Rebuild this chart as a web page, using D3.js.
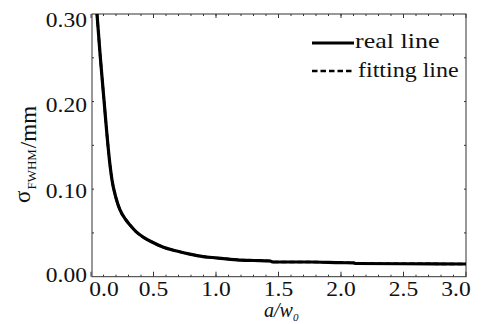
<!DOCTYPE html>
<html lang="en">
<head>
    <meta charset="UTF-8">
    <title>sigma FWHM vs a/w0</title>
    <script src="https://d3js.org/d3.v7.min.js"></script>
    <style>
        body { margin: 0; background: #fff; }
        svg { display: block; }
    </style>
</head>
<body>
    <svg id="chart" width="481" height="324"></svg>

    <script>
        // Data
        const ratio = [0.048, 0.075, 0.104, 0.128, 0.152, 0.168, 0.200, 0.232, 0.280, 0.312,
                       0.360, 0.420, 0.496, 0.580, 0.686, 0.790, 0.896, 1.00, 1.168, 1.300,
                       1.432, 1.456, 1.752, 2.000, 2.100, 2.120, 2.500, 3.000];
        const realSigma = [0.300, 0.2500, 0.2017, 0.1617, 0.1276, 0.1104, 0.0899, 0.0762, 0.0648, 0.0590,
                           0.0515, 0.0450, 0.0390, 0.0335, 0.0293, 0.0258, 0.0230, 0.0215, 0.0193, 0.0185,
                           0.0179, 0.0168, 0.0168, 0.0160, 0.0158, 0.0151, 0.0148, 0.0145];
        const fitSigma = realSigma;
        const xTicks = [0, 0.5, 1.0, 1.5, 2.0, 2.5, 3.0];
        const yTicks = [0, 0.10, 0.20, 0.30];
        const legendLabels = ["real line", "fitting line"];

        const serif = "'Liberation Serif', 'DejaVu Serif', serif";

        const svg = d3.select("#chart")
            .attr("font-family", serif);
        const plotL = 91, plotR = 466, plotT = 14, plotB = 276.7;

        const x = d3.scaleLinear().domain([0, 3]).range([plotL, plotR]);
        const y = d3.scaleLinear().domain([0, 0.30]).range([plotB, plotT]);

        // frame
        svg.append("rect")
            .attr("x", plotL + 1).attr("y", plotT)
            .attr("width", plotR - plotL - 1).attr("height", plotB - plotT)
            .attr("fill", "none").attr("stroke", "#333").attr("stroke-width", 1);

        // minor + major ticks, pointing inward
        const minorX = d3.range(0.1, 3, 0.1);
        const minorY = d3.range(0.05, 0.3, 0.05);
        const ticks = svg.append("g").attr("stroke", "#333").attr("stroke-width", 1);
        minorX.forEach(v => {
            ticks.append("line").attr("x1", x(v)).attr("x2", x(v)).attr("y1", plotB).attr("y2", plotB - 2);
            ticks.append("line").attr("x1", x(v)).attr("x2", x(v)).attr("y1", plotT).attr("y2", plotT + 2);
        });
        xTicks.forEach(v => {
            ticks.append("line").attr("x1", x(v)).attr("x2", x(v)).attr("y1", plotB).attr("y2", plotB - 5);
            ticks.append("line").attr("x1", x(v)).attr("x2", x(v)).attr("y1", plotT).attr("y2", plotT + 4);
        });
        minorY.forEach(v => {
            ticks.append("line").attr("x1", plotL + 1).attr("x2", plotL + 3).attr("y1", y(v)).attr("y2", y(v));
            ticks.append("line").attr("x1", plotR).attr("x2", plotR - 2).attr("y1", y(v)).attr("y2", y(v));
        });

        // x tick labels (slightly widened like the scan)
        const xShift = v => v === 0 ? 13 : (v === 3 ? -10 : 0);
        svg.append("g").selectAll("text")
            .data(xTicks)
            .join("text")
            .attr("fill", "#111")
            .attr("transform", d => `translate(${x(d) + xShift(d)},296) scale(1.12,1)`)
            .attr("text-anchor", "middle")
            .attr("font-size", 21)
            .text(d => d.toFixed(1));

        // y tick labels
        const yShift = v => v === 0.30 ? 12.5 : (v === 0 ? 5 : (v === 0.20 ? 10 : 9));
        svg.append("g").selectAll("text")
            .data(yTicks)
            .join("text")
            .attr("fill", "#111")
            .attr("transform", d => `translate(87,${y(d) + yShift(d)}) scale(1.12,1)`)
            .attr("text-anchor", "end")
            .attr("font-size", 21)
            .text(d => d.toFixed(2));

        // curves
        const pts = ratio.map((r, i) => [r, realSigma[i]]);
        const fitPts = ratio.map((r, i) => [r, fitSigma[i]]);
        const line = d3.line().x(d => x(d[0])).y(d => y(d[1])).curve(d3.curveMonotoneX);

        svg.append("path")
            .datum(pts)
            .attr("d", line)
            .attr("fill", "none")
            .attr("stroke", "#000")
            .attr("stroke-width", 3.2);

        svg.append("path")
            .datum(fitPts)
            .attr("d", line)
            .attr("fill", "none")
            .attr("stroke", "#000")
            .attr("stroke-width", 2.5)
            .attr("stroke-dasharray", "5,3");

        // legend
        const legend = svg.append("g").attr("fill", "#111");
        legend.append("line")
            .attr("x1", 312).attr("x2", 354).attr("y1", 43).attr("y2", 43)
            .attr("stroke", "#000").attr("stroke-width", 3);
        legend.append("line")
            .attr("x1", 312).attr("x2", 354).attr("y1", 71).attr("y2", 71)
            .attr("stroke", "#000").attr("stroke-width", 2.5)
            .attr("stroke-dasharray", "5.5,3");
        legend.append("text")
            .attr("transform", "translate(355,48) scale(1.3,1)")
            .attr("font-size", 20)
            .text(legendLabels[0]);
        legend.append("text")
            .attr("transform", "translate(358,77) scale(1.2,1)")
            .attr("font-size", 20)
            .text(legendLabels[1]);

        // x axis title: a/w0
        const xt = svg.append("text")
            .attr("fill", "#111")
            .attr("x", 264).attr("y", 317)
            .attr("font-size", 20)
            .attr("font-style", "italic");
        xt.append("tspan").text("a/w");
        xt.append("tspan").attr("font-size", 11).attr("dy", 4).text("0");

        // y axis title: sigma_FWHM/mm
        const yt = svg.append("text")
            .attr("fill", "#111")
            .attr("transform", "translate(36,203) rotate(-90)")
            .attr("font-size", 23);
        yt.append("tspan").attr("dy", -6).text("σ");
        yt.append("tspan").attr("font-size", 13).attr("dy", 6).attr("dx", 1).text("FWHM");
        yt.append("tspan").attr("dx", 1).text("/mm");
    </script>
</body>
</html>
